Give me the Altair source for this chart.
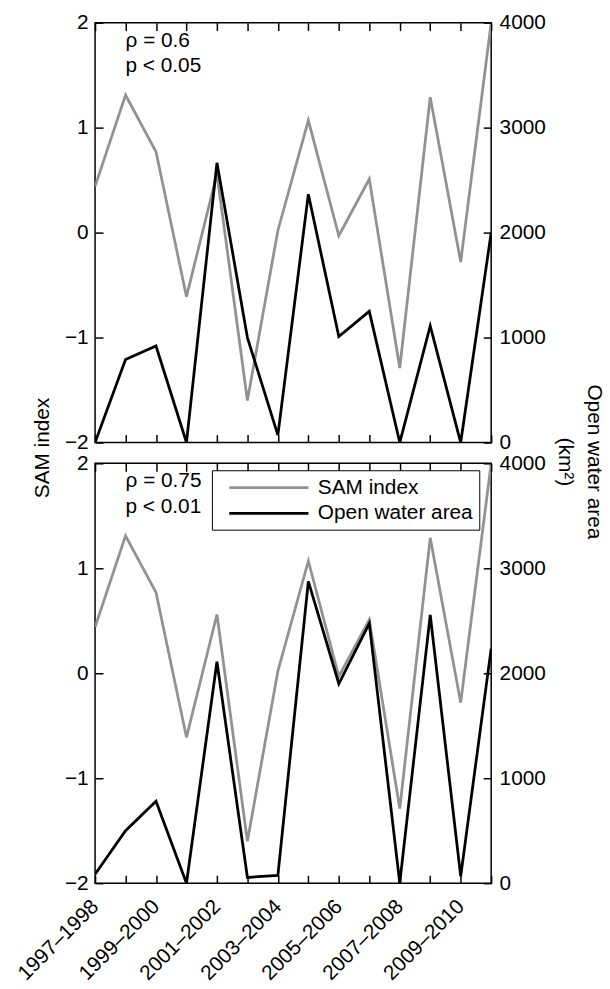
import altair as alt
import pandas as pd

# ---------------- data ----------------
seasons = ["1997–1998", "1998–1999", "1999–2000", "2000–2001", "2001–2002",
           "2002–2003", "2003–2004", "2004–2005", "2005–2006", "2006–2007",
           "2007–2008", "2008–2009", "2009–2010", "2010–2011"]
sam_index = [0.44, 1.31, 0.77, -0.61, 0.56, -1.60, 0.02, 1.07, -0.03, 0.51,
             -1.29, 1.29, -0.28, 2.0]
open_water_top = [0, 790, 920, 0, 2665, 1000, 70, 2365, 1010, 1250, 0, 1110, 0, 2000]
open_water_bottom = [85, 500, 780, 0, 2110, 55, 75, 2875, 1900, 2475, 0, 2555, 65, 2235]
stats_top = ["ρ = 0.6", "p < 0.05"]
stats_top_y = [1.82, 1.585]
stats_bottom = ["ρ = 0.75", "p < 0.01"]
stats_bottom_y = [1.83, 1.585]
series_names = ["SAM index", "Open water area"]
series_colors = ["#929292", "#000000"]
sam_ticks = [-2, -1, 0, 1, 2]
area_ticks = [0, 1000, 2000, 3000, 4000]

FONT = "Liberation Sans"
FS = 21
W, H = 400, 424
LW = 2.8

x_scale = alt.Scale(type="point", domain=seasons, padding=0)
color_scale = alt.Scale(domain=series_names, range=series_colors)


def sam_scale():
    return alt.Scale(domain=[-2, 2], nice=False, zero=False)


def panel(area, stats, stats_y, first):
    df = pd.DataFrame({"season": seasons, "sam": sam_index, "area": area})
    ann = pd.DataFrame({"season": [seasons[1]] * len(stats), "y": stats_y, "label": stats})

    common = dict(offset=-8, tickSize=8, ticks=True, domain=False, zindex=1,
                  tickColor="black", tickWidth=1.5)
    if first:
        bottom_axis = alt.Axis(orient="bottom", labels=False, title=None, **common)
        legend = None
    else:
        bottom_axis = alt.Axis(orient="bottom", title=None, labelAngle=-45,
                               labelAlign="right", labelBaseline="middle",
                               labelPadding=20, labelOverlap=False,
                               labelExpr="round(datum.index * 13) % 2 == 0 ? datum.label : ''",
                               **common)
        legend = alt.Legend(orient="none", legendX=118, legendY=7, title=None,
                            symbolType="M-4,0H4", symbolSize=400, symbolStrokeWidth=LW,
                            labelFontSize=FS, labelFont=FONT, labelColor="black",
                            fillColor="white", strokeColor="black", padding=6,
                            symbolOffset=40, rowPadding=4, labelOffset=38,
                            direction="vertical", zindex=2)

    left_axis = alt.Axis(orient="left", values=sam_ticks, labelPadding=7,
                         title="SAM index" if first else None,
                         titleY=429, titlePadding=12, titleAngle=270, **common)
    right_axis = alt.Axis(orient="right", values=area_ticks, format="d", labelPadding=8,
                          title=["Open water area", "(km²)"] if first else None,
                          titleY=443, titlePadding=9, titleAngle=90, titleLineHeight=30,
                          **common)
    top_axis = alt.Axis(orient="top", labels=False, title=None, **common)

    base = alt.Chart(df)
    sam_line = base.transform_calculate(series="'SAM index'").mark_line(
        strokeWidth=LW, clip=True).encode(
        x=alt.X("season:O", scale=x_scale, axis=bottom_axis, sort=seasons),
        y=alt.Y("sam:Q", scale=sam_scale(), axis=left_axis),
        color=alt.Color("series:N", scale=color_scale, legend=legend),
    )
    text = alt.Chart(ann).mark_text(align="left", baseline="middle", fontSize=FS,
                                     font=FONT, color="black").encode(
        x=alt.X("season:O", scale=x_scale, axis=None, sort=seasons),
        y=alt.Y("y:Q", scale=sam_scale(), axis=None),
        text="label:N",
    )
    area_line = base.transform_calculate(series="'Open water area'").mark_line(
        strokeWidth=LW, clip=True).encode(
        x=alt.X("season:O", scale=x_scale, axis=top_axis, sort=seasons),
        y=alt.Y("area:Q", scale=alt.Scale(domain=[0, 4000], nice=False, zero=False),
                axis=right_axis),
        color=alt.Color("series:N", scale=color_scale, legend=legend),
    )
    return (
        alt.layer(sam_line, area_line, text)
        .resolve_scale(y="independent")
        .resolve_axis(x="independent", y="independent")
        .properties(width=W, height=H)
    )


top = panel(open_water_top, stats_top, stats_top_y, True)
bottom = panel(open_water_bottom, stats_bottom, stats_bottom_y, False)

chart = (
    alt.vconcat(top, bottom, spacing=21, bounds="flush")
    .resolve_scale(color="independent")
    .properties(padding={"left": 13, "top": 6, "right": 4, "bottom": 3},
                background="white")
    .configure_view(stroke="black", strokeWidth=1.5)
    .configure_axis(labelFont=FONT, titleFont=FONT, labelFontSize=FS, titleFontSize=FS,
                    titleFontWeight="normal", labelColor="black", titleColor="black",
                    grid=False)
)

chart.save("out.html", embed_options={"renderer": "svg", "actions": False})
